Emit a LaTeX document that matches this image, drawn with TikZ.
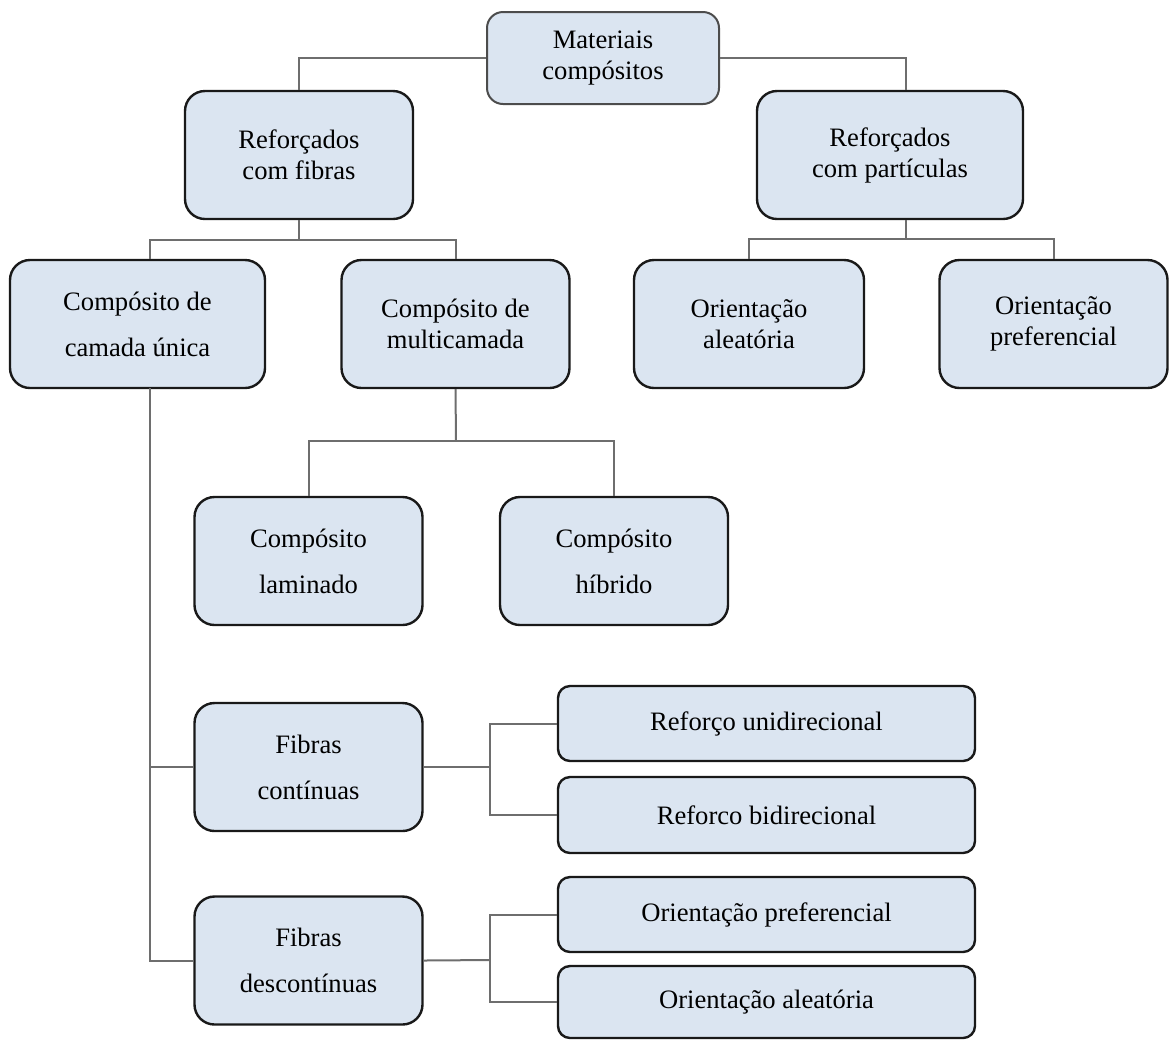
\documentclass[tikz,border=0pt]{standalone}
\usepackage{fontspec}
\setmainfont{Liberation Serif}
\definecolor{boxfill}{RGB}{219,229,241}
\definecolor{linkgray}{RGB}{110,110,110}
\tikzstyle{box} = [rectangle, rounded corners=10pt, text centered, align=center, draw=black!90, line width=1.2pt, fill=boxfill, minimum width=114pt, minimum height=64pt, font=\fontsize{13.3}{15.5}\selectfont]
\tikzstyle{airy} = [box, font=\fontsize{13.3}{23}\selectfont]
\tikzstyle{root} = [box, draw=black!70, line width=1pt, rounded corners=8pt, minimum width=116pt, minimum height=46pt]
\tikzstyle{leaf} = [box, rounded corners=6pt, minimum width=208.5pt, minimum height=37.5pt]
\tikzstyle{link} = [draw=linkgray, line width=1pt]

\begin{document}
\begin{tikzpicture}[x=0.5pt, y=-0.5pt]
  \useasboundingbox (0,0) rectangle (1170,1040);

  \node (mat) [root] at (603,58) {Materiais\\compósitos};
  \node (fib) [box] at (299,155) {Reforçados\\com fibras};
  \node (par) [box, minimum width=133pt] at (890,155) {Reforçados\\com partículas};
  \node (cam) [airy, minimum width=127.5pt] at (137.5,324) {Compósito de\\camada única};
  \node (mul) [box] at (455.5,324) {Compósito de\\multicamada};
  \node (ale) [box, minimum width=115pt] at (749,324) {Orientação\\aleatória};
  \node (pre) [box] at (1053.5,324) {Orientação\\preferencial};
  \node (lam) [airy] at (308.5,561) {Compósito\\laminado};
  \node (hib) [airy] at (614,561) {Compósito\\híbrido};
  \node (cont) [airy] at (308.5,767) {Fibras\\contínuas};
  \node (desc) [airy] at (308.5,960.5) {Fibras\\descontínuas};
  \node (uni) [leaf] at (766.5,723.5) {Reforço unidirecional};
  \node (bi) [leaf, minimum height=38pt] at (766.5,815) {Reforco bidirecional};
  \node (opref) [leaf] at (766.5,914.5) {Orientação preferencial};
  \node (oale) [leaf, minimum height=36pt] at (766.5,1002) {Orientação aleatória};

  \coordinate (parj) at (906,239);
  \coordinate (fibj) at (299,240);
  \coordinate (mulj) at (456,441);
  \coordinate (spine) at (150,388);
  \coordinate (contj) at (490,767);
  \coordinate (descj) at (490,960);

  \draw [link] (mat.west) -| (fib.north);
  \draw [link] (mat.east) -| (parj |- par.north);
  \draw [link] (parj |- par.south) -- (parj);
  \draw [link] (ale.north) |- (parj) -| (pre.north);
  \draw [link] (fib.south) -- (fibj);
  \draw [link] (spine |- cam.north) |- (fibj) -| (mul.north);
  \draw [link] (mul.south) -- (mulj);
  \draw [link] (lam.north) |- (mulj) -| (hib.north);
  \draw [link] (spine) |- (desc.west);
  \draw [link] (cont.west) -- (cont.west -| spine);
  \draw [link] (cont.east) -- (contj);
  \draw [link] (uni.west) -| (contj) |- (bi.west);
  \draw [link] (desc.east) -- (descj);
  \draw [link] (opref.west) -| (descj) |- (oale.west);
\end{tikzpicture}
\end{document}
